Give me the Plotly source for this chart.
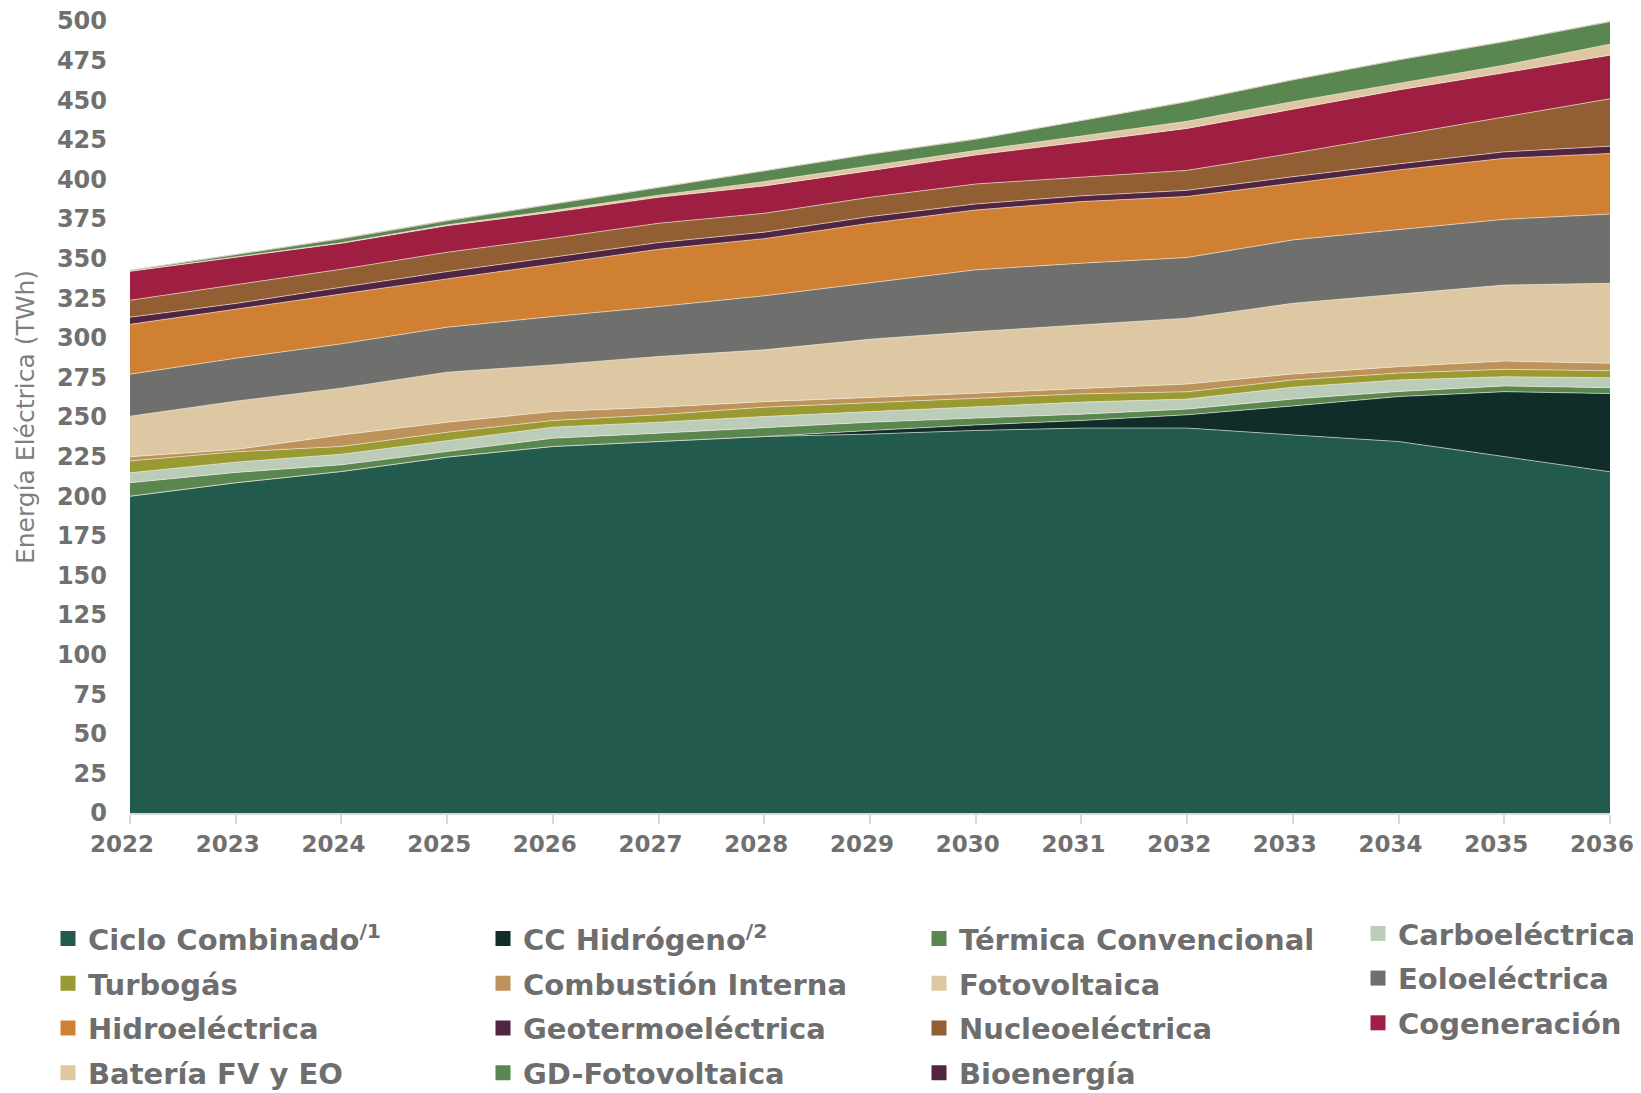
import plotly.graph_objects as go

years = [2022, 2023, 2024, 2025, 2026, 2027, 2028, 2029, 2030, 2031, 2032, 2033, 2034, 2035, 2036]

ciclo_combinado = [200.0, 208.5, 215.6, 224.7, 231.4, 234.5, 237.7, 239.2, 241.5, 243.0, 243.0, 238.7, 234.5, 225.0, 215.4]
cc_hidrogeno = [0.0, 0.0, 0.0, 0.0, 0.0, 0.0, 0.0, 2.3, 3.5, 4.8, 8.4, 18.3, 28.4, 41.0, 49.4]
termica = [8.5, 6.5, 4.2, 3.5, 5.2, 5.3, 5.6, 5.2, 4.3, 4.0, 3.6, 4.3, 3.2, 3.6, 3.7]
carboelectrica = [6.3, 6.5, 6.7, 6.9, 7.0, 6.9, 7.0, 6.7, 6.9, 7.6, 6.3, 7.5, 7.3, 5.8, 6.3]
turbogas = [7.5, 6.5, 4.9, 5.3, 4.2, 4.7, 5.9, 5.7, 5.7, 5.2, 4.6, 4.6, 4.3, 4.7, 4.4]
combustion_interna = [2.6, 1.5, 7.3, 6.3, 5.6, 4.8, 3.5, 3.2, 3.1, 3.4, 4.9, 3.8, 4.1, 5.2, 4.7]
fotovoltaica = [25.6, 30.5, 29.5, 31.6, 29.5, 32.0, 32.7, 36.8, 38.9, 40.2, 41.6, 44.6, 45.9, 48.0, 50.5]
eoloelectrica = [26.5, 27.1, 28.0, 28.4, 30.5, 31.5, 34.1, 35.8, 39.0, 38.9, 38.3, 40.0, 40.8, 41.5, 43.7]
hidroelectrica = [31.5, 31.1, 31.3, 30.5, 33.1, 36.2, 36.1, 37.4, 37.8, 38.9, 38.5, 35.8, 37.5, 38.5, 38.3]
geotermoelectrica = [4.5, 3.5, 4.4, 4.6, 4.4, 4.2, 4.1, 4.2, 3.8, 3.6, 3.9, 4.1, 3.8, 4.1, 4.6]
nucleoelectrica = [10.7, 12.0, 11.4, 12.2, 12.0, 12.2, 11.9, 12.2, 12.6, 11.8, 12.6, 14.8, 18.3, 22.1, 29.9]
cogeneracion = [18.3, 17.0, 16.4, 16.8, 16.4, 16.4, 17.3, 16.8, 18.3, 22.2, 26.5, 27.8, 28.4, 27.8, 27.5]
bateria = [0.1, 0.2, 0.3, 0.5, 1.0, 1.3, 2.7, 3.0, 2.8, 3.8, 4.5, 4.8, 4.2, 4.8, 7.0]
gd_fotovoltaica = [0.4, 1.5, 2.5, 2.5, 4.0, 4.5, 6.7, 7.4, 7.1, 9.6, 12.3, 13.7, 14.7, 14.8, 14.1]
bioenergia = [0.3, 0.3, 0.3, 0.4, 0.3, 0.3, 0.3, 0.3, 0.3, 0.3, 0.3, 0.3, 0.3, 0.3, 0.3]

names = ["Ciclo Combinado<sup>/1</sup>", "CC Hidrógeno<sup>/2</sup>", "Térmica Convencional",
         "Carboeléctrica", "Turbogás", "Combustión Interna", "Fotovoltaica", "Eoloeléctrica",
         "Hidroeléctrica", "Geotermoeléctrica", "Nucleoeléctrica", "Cogeneración",
         "Batería FV y EO", "GD-Fotovoltaica", "Bioenergía"]
series = [ciclo_combinado, cc_hidrogeno, termica, carboelectrica, turbogas, combustion_interna,
          fotovoltaica, eoloelectrica, hidroelectrica, geotermoelectrica, nucleoelectrica,
          cogeneracion, bateria, gd_fotovoltaica, bioenergia]
colors = ["#225A4E", "#112D2A", "#5A8650", "#BBCDB8", "#9A9A32", "#BD935B", "#DEC8A3",
          "#6F706E", "#D08032", "#512442", "#925F35", "#9E1F41", "#DEC8A3", "#5A8650", "#512442"]

# legend columns (row-major order in the reference)
legend_of = ["legend", "legend2", "legend3", "legend4",
             "legend", "legend2", "legend3", "legend4",
             "legend", "legend2", "legend3", "legend4",
             "legend", "legend2", "legend3"]

L, R, T, B = 122, 39, 13, 288
W, H = 1641, 1093
PW = W - L - R
PH = H - T - B

fig = go.Figure()
for name, vals, col in zip(names, series, colors):
    fig.add_trace(go.Scatter(
        x=years, y=vals, name=name, stackgroup="one", mode="lines",
        line=dict(width=0.8, color="rgba(245,238,225,0.75)"),
        fillcolor=col, showlegend=False, hoverinfo="x+y+name"))

for i, (name, col) in enumerate(zip(names, colors)):
    fig.add_trace(go.Scatter(
        x=[None], y=[None], mode="markers", name=name,
        marker=dict(symbol="square", size=15, color=col),
        legend=legend_of[i], legendgroup=name, showlegend=True))

x_tick_font = dict(family="DejaVu Sans", size=23, color="#707070", weight="bold")
y_tick_font = dict(family="DejaVu Sans", size=24, color="#707070", weight="bold")
leg_font = dict(family="DejaVu Sans", size=29, color="#6E6E6E", weight="bold")

def leg(xpx, ypaper):
    return dict(x=(xpx - L) / PW, y=ypaper, xanchor="left", yanchor="top",
                orientation="v", font=leg_font, bgcolor="rgba(0,0,0,0)",
                tracegroupgap=4, itemclick=False, itemdoubleclick=False)

fig.update_layout(
    width=W, height=H,
    margin=dict(l=L, r=R, t=T, b=B, autoexpand=False),
    plot_bgcolor="white", paper_bgcolor="white",
    xaxis=dict(range=[2022, 2036], tickmode="array", tickvals=years,
               ticktext=[str(y) for y in years], showgrid=False, zeroline=False,
               showline=True, linecolor="#D9D9D9", linewidth=2,
               ticks="outside", ticklen=9, tickwidth=2, tickcolor="#D9D9D9",
               tickfont=x_tick_font, ticklabelshift=-8, ticklabeloverflow="allow"),
    yaxis=dict(range=[0, 500], dtick=25, tick0=0, showgrid=False, zeroline=False,
               showline=False, ticks="", ticklabelstandoff=22, tickfont=y_tick_font,
               ticklabeloverflow="allow",
               title=dict(text="Energía Eléctrica (TWh)", standoff=15,
                          font=dict(family="DejaVu Sans", size=25, color="#7F7F7F"))),
    legend=leg(40, -0.1265),
    legend2=leg(475, -0.1265),
    legend3=leg(911, -0.1265),
    legend4=leg(1350, -0.120),
)

fig.write_html("out.html")
